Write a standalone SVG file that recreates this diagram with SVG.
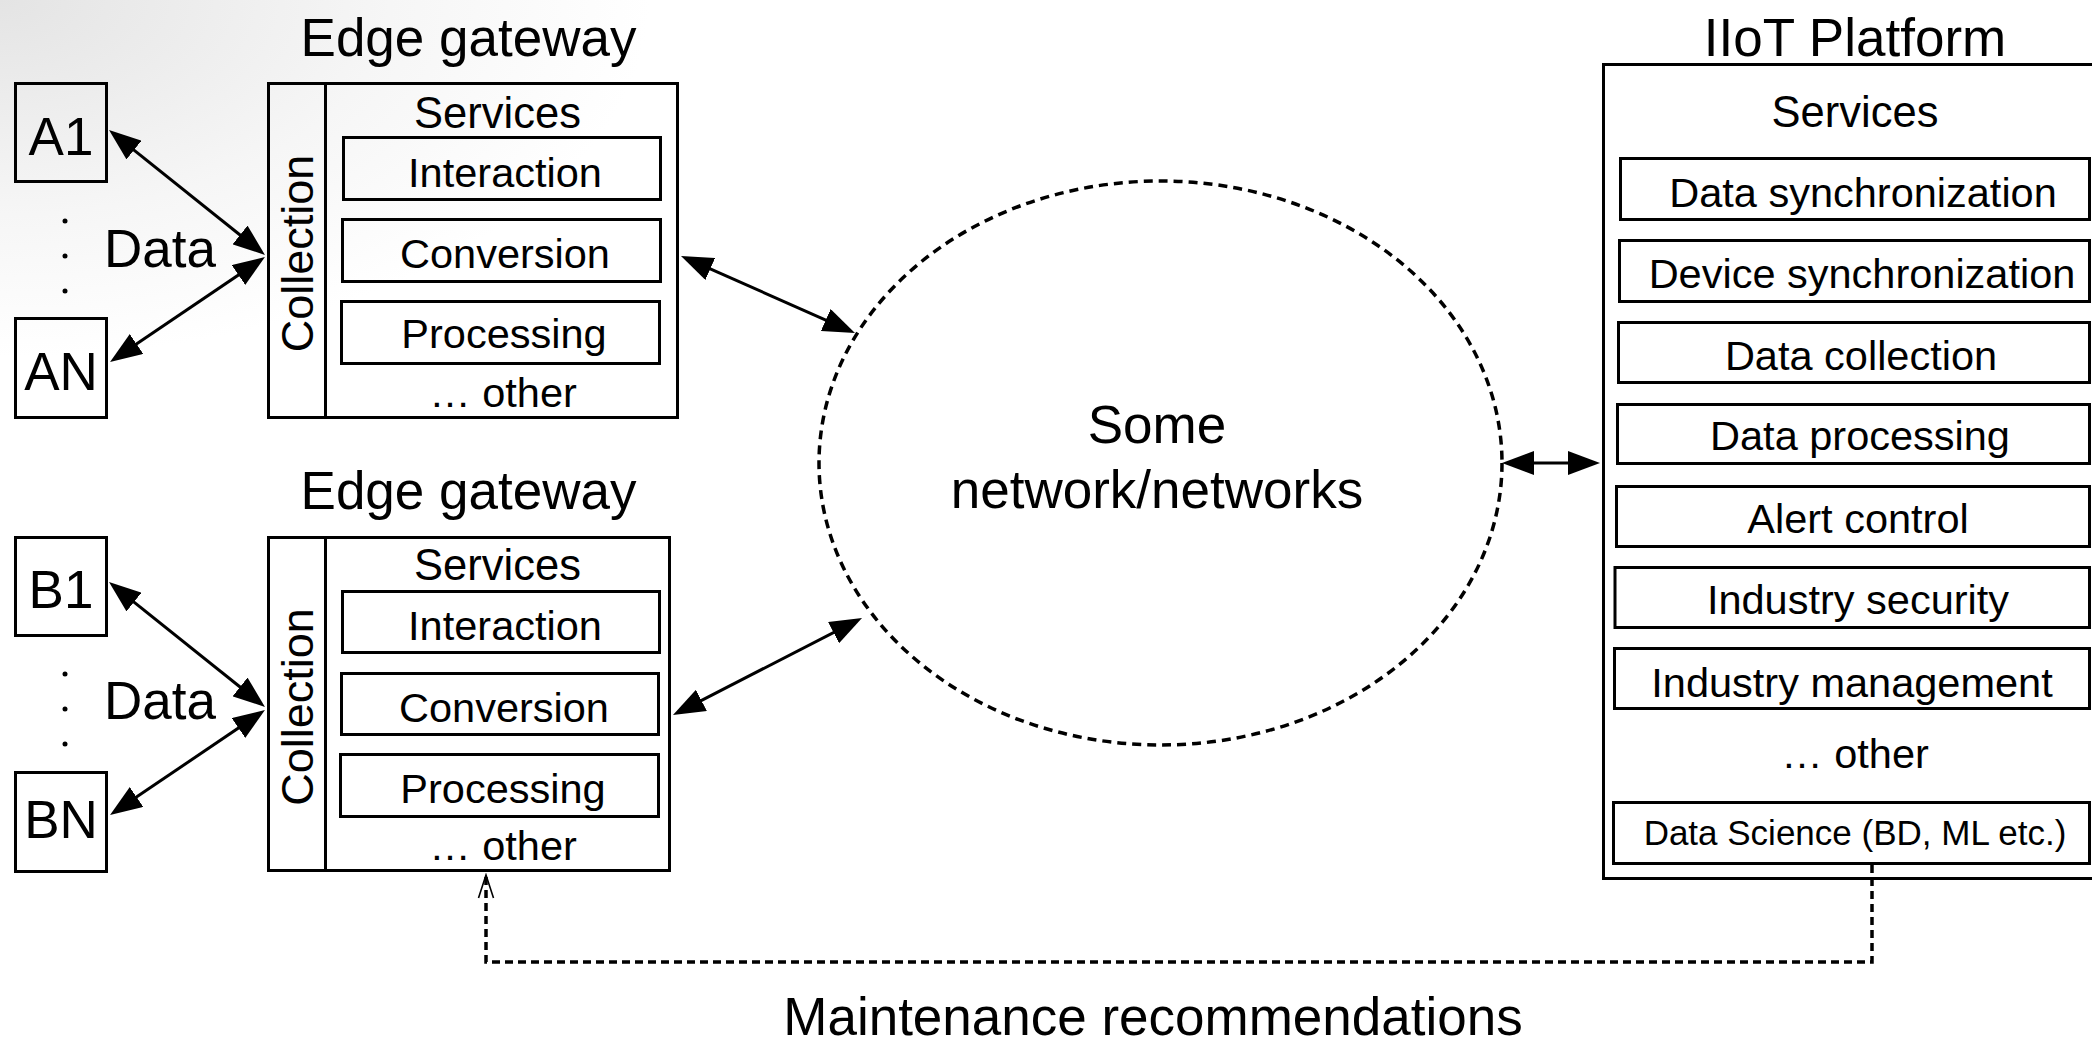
<svg xmlns="http://www.w3.org/2000/svg" width="2092" height="1042" viewBox="0 0 2092 1042">
  <defs>
    <radialGradient id="bgShade" gradientUnits="userSpaceOnUse" cx="0" cy="0" r="650" gradientTransform="scale(1,0.55)">
      <stop offset="0" stop-color="#e4e4e4"/>
      <stop offset="0.6" stop-color="#f6f6f6"/>
      <stop offset="1" stop-color="#ffffff"/>
    </radialGradient>
    <marker id="ah" viewBox="0 0 32 24" refX="26" refY="12" markerWidth="32" markerHeight="24" markerUnits="userSpaceOnUse" orient="auto-start-reverse">
      <path d="M0,0 L32,12 L0,24 Z" fill="#000"/>
    </marker>
    <marker id="openAh" viewBox="-26 -10 28 20" refX="0" refY="0" markerWidth="28" markerHeight="20" markerUnits="userSpaceOnUse" orient="auto">
      <path d="M-23,-7.5 L0,0 L-23,7.5" fill="none" stroke="#000" stroke-width="1.6" stroke-dasharray="none"/>
    </marker>
    <style>
      .box { fill: none; stroke: #000; stroke-width: 3; }
      .t { font-family: "Liberation Sans", Arial, sans-serif; fill: #000; text-anchor: middle; }
      .big { font-size: 53px; }
      .coll { font-size: 45px; }
      .svc { font-size: 41.5px; }
      .hdr { font-size: 43.5px; }
      .small { font-size: 35px; }
      .conn { fill: none; stroke: #000; stroke-width: 3; }
      .arrow { marker-start: url(#ah); marker-end: url(#ah); }
      .dash { fill: none; stroke: #000; stroke-width: 3.5; stroke-dasharray: 8 5; }
    </style>
  </defs>

  <!-- page background with soft shading in the upper left -->
  <rect x="0" y="0" width="2092" height="1042" fill="#fff"/>
  <rect x="0" y="0" width="2092" height="1042" fill="url(#bgShade)"/>

  <!-- field devices, group A -->
  <g id="node-A1">
    <rect class="box" x="15.5" y="83.5" width="91" height="98"/>
    <text class="t big" x="61" y="155">A1</text>
  </g>
  <g id="node-AN">
    <rect class="box" x="15.5" y="318.5" width="91" height="99"/>
    <text class="t big" x="61" y="390">AN</text>
  </g>
  <g id="label-A-data">
    <circle cx="65" cy="221" r="2.5"/>
    <circle cx="65" cy="256" r="2.5"/>
    <circle cx="65" cy="291" r="2.5"/>
    <text class="t big" x="160" y="267">Data</text>
  </g>

  <!-- field devices, group B -->
  <g id="node-B1">
    <rect class="box" x="15.5" y="537.5" width="91" height="98"/>
    <text class="t big" x="61" y="608">B1</text>
  </g>
  <g id="node-BN">
    <rect class="box" x="15.5" y="772.5" width="91" height="99"/>
    <text class="t big" x="61" y="838">BN</text>
  </g>
  <g id="label-B-data">
    <circle cx="65" cy="674" r="2.5"/>
    <circle cx="65" cy="709" r="2.5"/>
    <circle cx="65" cy="744" r="2.5"/>
    <text class="t big" x="160" y="719">Data</text>
  </g>

  <!-- edge gateway 1 -->
  <g id="node-gateway-1">
    <text class="t big" x="468.5" y="56">Edge gateway</text>
    <rect class="box" x="268.5" y="83.5" width="409" height="334"/>
    <line class="box" x1="325.5" y1="83.5" x2="325.5" y2="417.5"/>
    <text class="t coll" transform="translate(313,253.5) rotate(-90)" x="0" y="0">Collection</text>
    <text class="t hdr" x="497.5" y="128">Services</text>
    <rect class="box" x="343.5" y="137.5" width="317" height="62"/>
    <text class="t svc" x="505" y="187">Interaction</text>
    <rect class="box" x="342.5" y="219.5" width="318" height="62"/>
    <text class="t svc" x="505" y="268">Conversion</text>
    <rect class="box" x="341.5" y="301.5" width="318" height="62"/>
    <text class="t svc" x="504" y="348">Processing</text>
    <text class="t svc" x="503" y="407">… other</text>
  </g>

  <!-- edge gateway 2 -->
  <g id="node-gateway-2">
    <text class="t big" x="468.5" y="509">Edge gateway</text>
    <rect class="box" x="268.5" y="537.5" width="401" height="333"/>
    <line class="box" x1="325.5" y1="537.5" x2="325.5" y2="870.5"/>
    <text class="t coll" transform="translate(313,707) rotate(-90)" x="0" y="0">Collection</text>
    <text class="t hdr" x="497.5" y="580">Services</text>
    <rect class="box" x="342.5" y="591.5" width="317" height="61"/>
    <text class="t svc" x="505" y="640">Interaction</text>
    <rect class="box" x="341.5" y="673.5" width="317" height="61"/>
    <text class="t svc" x="504" y="722">Conversion</text>
    <rect class="box" x="340.5" y="754.5" width="318" height="62"/>
    <text class="t svc" x="503" y="803">Processing</text>
    <text class="t svc" x="503" y="860">… other</text>
  </g>

  <!-- network cloud -->
  <g id="node-network">
    <ellipse cx="1160.5" cy="463" rx="341.5" ry="282" fill="none" stroke="#000" stroke-width="3.5" stroke-dasharray="9 6"/>
    <text class="t big" x="1157" y="443">Some</text>
    <text class="t big" x="1157" y="508">network/networks</text>
  </g>

  <!-- IIoT platform -->
  <g id="node-platform">
    <text class="t big" x="1855" y="56">IIoT Platform</text>
    <rect class="box" x="1603.5" y="64.5" width="520" height="814"/>
    <text class="t hdr" x="1855" y="127">Services</text>
    <rect class="box" x="1620.5" y="158.5" width="469" height="61"/>
    <text class="t svc" x="1863" y="207">Data synchronization</text>
    <rect class="box" x="1619.5" y="240.5" width="470" height="61"/>
    <text class="t svc" x="1862" y="288">Device synchronization</text>
    <rect class="box" x="1618.5" y="322.5" width="471" height="60"/>
    <text class="t svc" x="1861" y="370">Data collection</text>
    <rect class="box" x="1617.5" y="404.5" width="472" height="59"/>
    <text class="t svc" x="1860" y="450">Data processing</text>
    <rect class="box" x="1616.5" y="486.5" width="473" height="60"/>
    <text class="t svc" x="1858" y="533">Alert control</text>
    <rect class="box" x="1615" y="567.5" width="474.5" height="60"/>
    <text class="t svc" x="1858" y="614">Industry security</text>
    <rect class="box" x="1614.5" y="648.5" width="475" height="60"/>
    <text class="t svc" x="1852" y="697">Industry management</text>
    <text class="t svc" x="1855" y="768">… other</text>
    <rect class="box" x="1613.5" y="802.5" width="476" height="61"/>
    <text class="t small" x="1855" y="845">Data Science (BD, ML etc.)</text>
  </g>

  <!-- connectors -->
  <g id="connectors">
    <line class="conn arrow" x1="113.7" y1="133.8" x2="260.3" y2="251.2"/>
    <line class="conn arrow" x1="115" y1="358.6" x2="260" y2="260.4"/>
    <line class="conn arrow" x1="113.7" y1="585.8" x2="260.3" y2="703.2"/>
    <line class="conn arrow" x1="115" y1="811.6" x2="260" y2="713.4"/>
    <line class="conn arrow" x1="686.5" y1="258.4" x2="849.5" y2="330.6"/>
    <line class="conn arrow" x1="678.3" y1="712.3" x2="856.7" y2="620.7"/>
    <line class="conn arrow" x1="1508" y1="463" x2="1594" y2="463"/>
    <path class="dash" d="M1872,865 V962 H486 V875" marker-end="url(#openAh)"/>
    <text class="t big" x="1153" y="1035">Maintenance recommendations</text>
  </g>
</svg>
